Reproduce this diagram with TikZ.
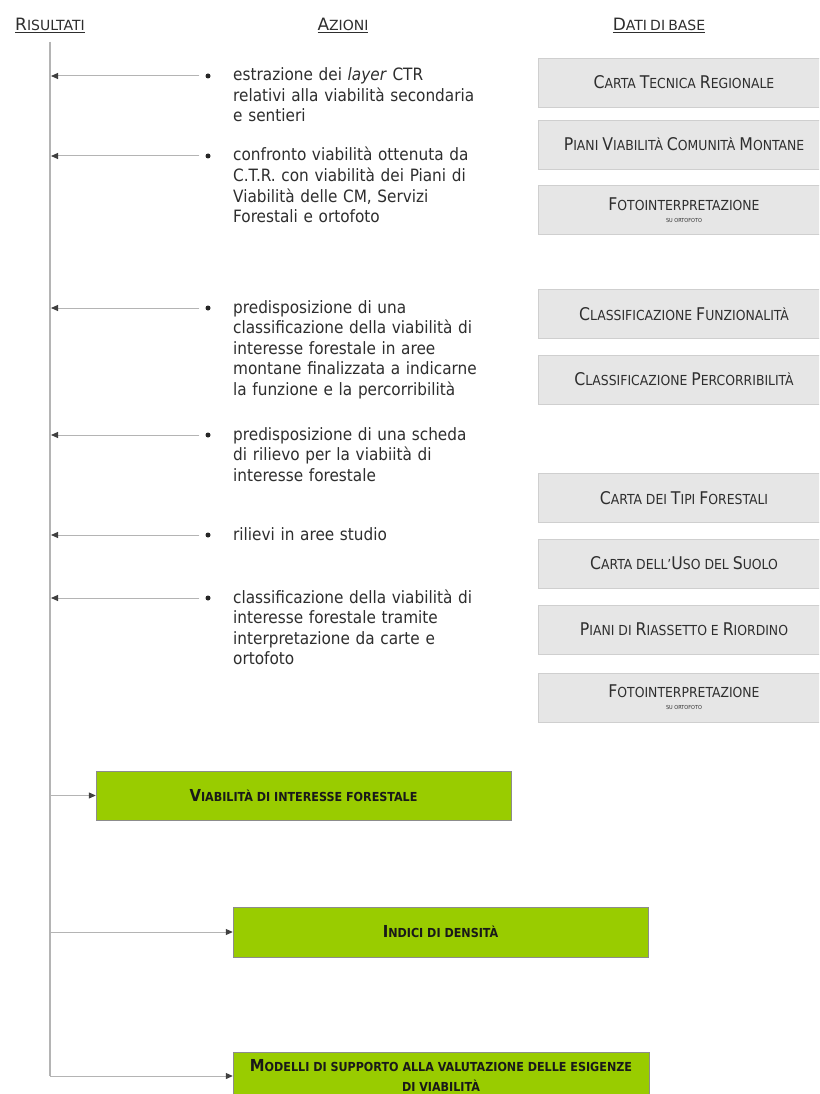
\documentclass[tikz,border=0pt]{standalone}
\usepackage{fontspec}
\setmainfont{DejaVu Sans}
\newfontfamily\cond{DejaVu Sans Condensed}
\newfontfamily\dvs{DejaVu Sans}
\usetikzlibrary{arrows.meta}
\def\bigfs{17}\def\smfs{14}
\newcommand\Sk[2]{{\fontsize{\bigfs}{\bigfs}\selectfont #1}{\fontsize{\smfs}{\smfs}\selectfont #2}}
\newcommand\Sm[1]{{\fontsize{\smfs}{\smfs}\selectfont #1}}
\definecolor{gfill}{HTML}{E6E6E6}
\definecolor{gline}{HTML}{CFCFCF}
\definecolor{lime}{HTML}{99CC00}
\definecolor{conn}{HTML}{B4B4B4}
\definecolor{tx}{HTML}{2E2E2E}
\tikzset{
  hdr/.style={anchor=base, inner sep=0pt, text=tx, font={\dvs\def\bigfs{17}\def\smfs{14}}},
  datum/.style={draw=gline, fill=gfill, minimum width=292pt, minimum height=49pt, inner sep=0pt,
    text=tx, align=center, font={\cond\def\bigfs{17.5}\def\smfs{13.8}\fontsize{13.8}{16}\selectfont}},
  result/.style={draw=black!45, fill=lime, minimum width=415pt, minimum height=49.5pt, inner sep=0pt,
    text=black!90, align=center, font={\cond\bfseries\def\bigfs{16.5}\def\smfs{12.4}\fontsize{12.4}{20}\selectfont}},
  act/.style={anchor=base west, text width=300pt, inner sep=0pt, align=left, text=tx,
    font={\cond\fontsize{17}{20.5}\selectfont}},
  bul/.style={circle, fill=black!85, inner sep=0pt, minimum size=5pt},
  arr/.style={draw=conn, line width=1pt, -{Triangle[length=7pt,width=6pt,color=black!75]}},
  vline/.style={draw=conn, line width=1.3pt}
}
\begin{document}
\begin{tikzpicture}[x=1pt,y=-1pt]
\useasboundingbox (0,0) rectangle (819,1094);
\begin{scope}
\clip (0,0) rectangle (819,1094);
\fill[white] (0,0) rectangle (819,1094);
% headers
\node[hdr] (h1) at (50,30.5) {\underline{\Sk{R}{ISULTATI}}};
\node[hdr] (h2) at (343,30.5) {\underline{\Sk{A}{ZIONI}}};
\node[hdr] (h3) at (659,30.5) {\underline{\Sk{D}{ATI} \Sm{DI} \Sk{}{BASE}}};
% vertical line
\coordinate (vtop) at (50,42);
\coordinate (vbot) at (50,1076);
\draw[vline] (vtop) -- (vbot);
% actions
\node[act] (a1) at (233,81) {estrazione dei \textit{layer} CTR\\relativi alla viabilità secondaria\\e sentieri};
\node[act] (a2) at (233,161) {confronto viabilità ottenuta da\\C.T.R. con viabilità dei Piani di\\Viabilità delle CM, Servizi\\Forestali e ortofoto};
\node[act] (a3) at (233,313) {predisposizione di una\\classificazione della viabilità di\\interesse forestale in aree\\montane finalizzata a indicarne\\la funzione e la percorribilità};
\node[act] (a4) at (233,440) {predisposizione di una scheda\\di rilievo per la viabiità di\\interesse forestale};
\node[act] (a5) at (233,540) {rilievi in aree studio};
\node[act] (a6) at (233,603) {classificazione della viabilità di\\interesse forestale tramite\\interpretazione da carte e\\ortofoto};
% bullets and arrows
\foreach \i/\y in {1/76,2/156,3/308,4/435,5/535,6/598}{
  \node[bul] (b\i) at (208,\y) {};
  \coordinate (v\i) at (51,\y);
  \draw[arr] ([xshift=-6pt]b\i.west) -- (v\i);
}
% data boxes
\node[datum] (d1) at (684,82.5) {\Sk{C}{ARTA} \Sk{T}{ECNICA} \Sk{R}{EGIONALE}};
\node[datum] (d2) at (684,144.5) {\Sk{P}{IANI} \Sk{V}{IABILITÀ} \Sk{C}{OMUNITÀ} \Sk{M}{ONTANE}};
\node[datum] (d3) at (684,210) {\Sk{F}{OTOINTERPRETAZIONE}\\[-4pt]{\fontsize{5.5}{6}\selectfont SU ORTOFOTO}};
\node[datum] (d4) at (684,314) {\Sk{C}{LASSIFICAZIONE} \Sk{F}{UNZIONALITÀ}};
\node[datum] (d5) at (684,379.5) {\Sk{C}{LASSIFICAZIONE} \Sk{P}{ERCORRIBILITÀ}};
\node[datum] (d6) at (684,498) {\Sk{C}{ARTA} \Sm{DEI} \Sk{T}{IPI} \Sk{F}{ORESTALI}};
\node[datum] (d7) at (684,563.5) {\Sk{C}{ARTA} \Sm{DELL’}\Sk{U}{SO} \Sm{DEL} \Sk{S}{UOLO}};
\node[datum] (d8) at (684,629.5) {\Sk{P}{IANI} \Sm{DI} \Sk{R}{IASSETTO} \Sm{E} \Sk{R}{IORDINO}};
\node[datum] (d9) at (684,697.5) {\Sk{F}{OTOINTERPRETAZIONE}\\[-4pt]{\fontsize{5.5}{6}\selectfont SU ORTOFOTO}};
% results
\node[result] (r1) at (303.5,795.5) {\Sk{V}{IABILITÀ} \Sm{DI INTERESSE FORESTALE}};
\node[result] (r2) at (440.5,932) {\Sk{I}{NDICI} \Sm{DI DENSITÀ}};
\node[result, minimum width=416pt, minimum height=46pt] (r3) at (441,1075) {\Sk{M}{ODELLI} \Sm{DI SUPPORTO ALLA VALUTAZIONE DELLE ESIGENZE}\\\Sm{DI VIABILITÀ}};
\coordinate (w1) at (50,795.5);
\coordinate (w2) at (50,932);
\coordinate (w3) at (50,1076);
\draw[arr] (w1) -- (r1.west);
\draw[arr] (w2) -- (r2.west);
\draw[arr] (w3) -- (r3.west |- w3);
\end{scope}
\end{tikzpicture}
\end{document}
